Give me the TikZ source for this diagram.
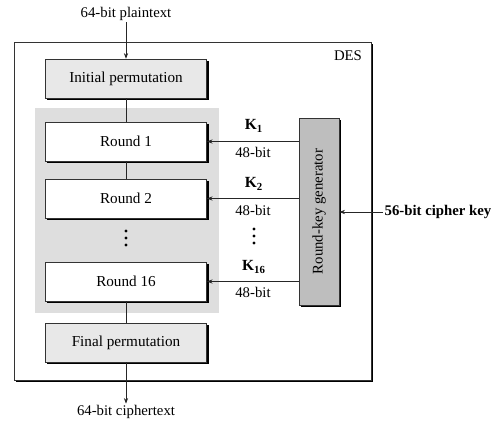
\documentclass[tikz,border=0pt]{standalone}
\usepackage{fontspec}
\setmainfont{Liberation Serif}
\usetikzlibrary{calc,shadows,arrows.meta}
\definecolor{permgray}{RGB}{232,232,232}
\definecolor{bandgray}{RGB}{222,222,222}
\definecolor{keygray}{RGB}{190,190,190}
\tikzset{
	boxshadow/.style={drop shadow={shadow xshift=1.4pt, shadow yshift=-1.4pt, fill=black, opacity=1}},
	stagebox/.style={draw=black!80, line width=0.5pt, minimum width=4.03cm, minimum height=0.97cm, inner sep=0pt, boxshadow, font=\fontsize{10.8}{12}\selectfont},
	permbox/.style={stagebox, fill=permgray},
	roundbox/.style={stagebox, fill=white},
	flow/.style={draw=black!85, line width=0.5pt},
	keyarrow/.style={flow, -{Stealth[length=4pt,width=3pt]}},
	lbl/.style={font=\fontsize{10.5}{12}\selectfont, inner sep=1pt},
	dot/.style={fill=black, radius=1.6}
}

\begin{document}
\begin{tikzpicture}[x=0.025cm, y=-0.025cm]
			%%%%% START %%%%%
			\useasboundingbox (0, 0) rectangle (496, 421);
			
			% outer box and the gray band
			\draw[draw=black!80, line width=0.5pt, fill=white, boxshadow] (14, 42) rectangle (371, 380);
			\node[lbl] (des) at (348, 56) {DES};
			\fill[bandgray] (35, 108) rectangle (219, 313);
			
			\node[lbl] (plain) at (126, 14) {64-bit plaintext};
			\node[permbox] (initp) at (126, 78.5) {Initial permutation};
			\node[roundbox] (r1) at (126, 141.5) {Round 1};
			\node[roundbox] (r2) at (126, 198.5) {Round 2};
			\node[roundbox] (r16) at (126, 281.5) {Round 16};
			\node[permbox] (finalp) at (126, 342.5) {Final permutation};
			\node[lbl] (cipher) at (126, 412) {64-bit ciphertext};
			
			\foreach \y in {231, 238, 245}
				\fill[dot] (126, \y) circle;
			
			\draw[keyarrow] (plain) -- (initp);
			\draw[flow] (initp) -- (r1);
			\draw[flow] (r1) -- (r2);
			\draw[flow] (r16) -- (finalp);
			\draw[keyarrow] (finalp) -- (cipher);
			
			% key schedule
			\node[draw=black!80, line width=0.5pt, fill=keygray, boxshadow, minimum width=1cm, minimum height=4.68cm, inner sep=0pt] (keygen) at (319, 211.5) {};
			\node[lbl, rotate=90] (keytxt) at (keygen) {Round-key generator};
			
			\draw[keyarrow] (keygen.west |- r1) -- (r1);
			\draw[keyarrow] (keygen.west |- r2) -- (r2);
			\draw[keyarrow] (keygen.west |- r16) -- (r16);
			
			\node[lbl, font=\fontsize{11}{12}\selectfont\bfseries] (k1) at (254, 126) {K\textsubscript{1}};
			\node[lbl] (b1) at (253, 152) {48-bit};
			\node[lbl, font=\fontsize{11}{12}\selectfont\bfseries] (k2) at (254, 184) {K\textsubscript{2}};
			\node[lbl] (b2) at (253, 210) {48-bit};
			\node[lbl, font=\fontsize{11}{12}\selectfont\bfseries] (k16) at (254, 267) {K\textsubscript{16}};
			\node[lbl] (b16) at (253, 292) {48-bit};
			
			\foreach \y in {229, 236, 243}
				\fill[dot] (254, \y) circle;
			
			\node[lbl, font=\fontsize{10.5}{12}\selectfont\bfseries, anchor=west] (cipherkey) at (383, 212) {56-bit cipher key};
			\draw[keyarrow] (cipherkey.west) -- (keygen.east |- cipherkey.west);
			%%%%% END %%%%%
\end{tikzpicture}
\end{document}
